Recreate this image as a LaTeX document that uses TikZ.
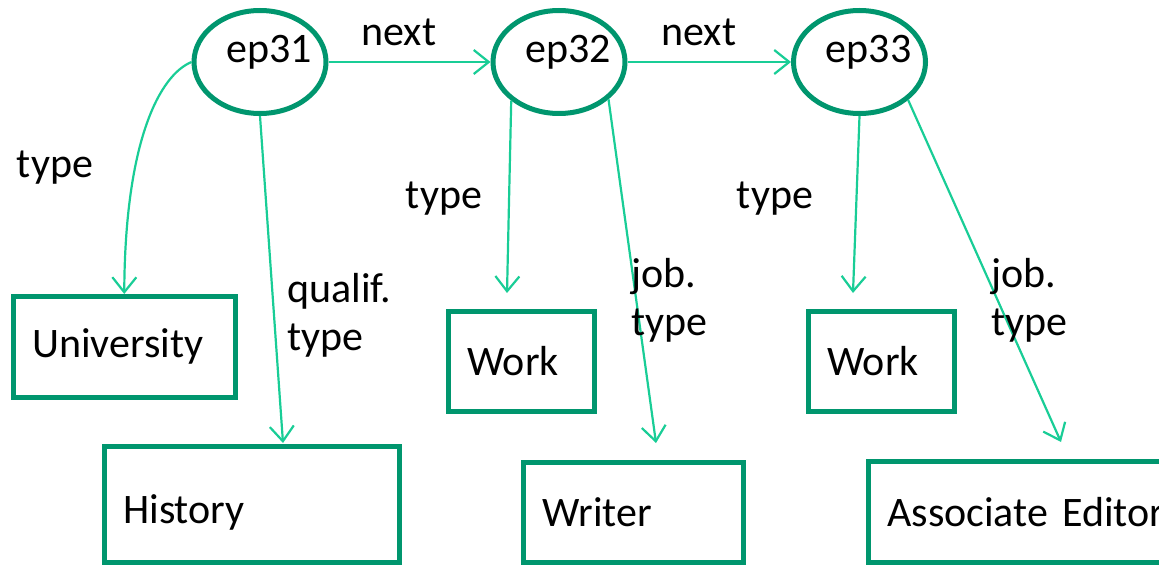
\documentclass[tikz,border=0pt]{standalone}
\usepackage{fontspec}
\setmainfont{Carlito}
\usetikzlibrary{arrows.meta,shapes.geometric}

\definecolor{boxgreen}{RGB}{0,150,110}
\definecolor{arrgreen}{RGB}{25,205,150}

\begin{document}
\begin{tikzpicture}[x=1pt,y=-1pt,
  font=\fontsize{42}{48}\selectfont,
  ep/.style={draw=boxgreen,line width=5pt,ellipse,minimum width=132pt,minimum height=103pt,inner sep=0pt},
  cls/.style={draw=boxgreen,line width=4.5pt,rectangle,anchor=north west,inner xsep=19pt,inner ysep=0pt,align=left},
  rel/.style={draw=arrgreen,line width=2.2pt,-{Straight Barb[length=15pt,width=24pt]}},
  lbl/.style={anchor=base west,align=left,inner sep=0pt}]

\useasboundingbox (0,0) rectangle (1159,567);

% episodes
\node[ep,label={[xshift=9pt,yshift=10pt]center:ep31}] (ep31) at (260,62) {};
\node[ep,label={[xshift=9pt,yshift=10pt]center:ep32}] (ep32) at (559,62) {};
\node[ep,label={[xshift=9pt,yshift=10pt]center:ep33}] (ep33) at (859.5,62) {};

% classes
\node[cls,minimum width=222pt,minimum height=101pt,text width=184pt] (univ) at (11,294) {University};
\node[cls,minimum width=295pt,minimum height=116pt,text width=257pt,text height=46pt] (hist) at (102,444) {History};
\node[cls,minimum width=146pt,minimum height=100pt,text width=108pt] (work32) at (446,309) {Work};
\node[cls,minimum width=220pt,minimum height=100pt,text width=182pt] (writer) at (521,460) {Writer};
\node[cls,minimum width=146pt,minimum height=100pt,text width=108pt] (work33) at (806,309) {Work};
\node[cls,minimum width=320pt,minimum height=101pt,text width=282pt] (assoc) at (866,459) {Associate Editor};

% arrow tips that stop short of the boxes
\coordinate (histtip) at (283,443);
\coordinate (wk32tip) at (507,293);
\coordinate (wr32tip) at (656,443);
\coordinate (wk33tip) at (853,293);
\coordinate (ae33tip) at (1061,442);

% relations
\draw[rel] (ep31.east) -- (ep32.west);
\draw[rel] (ep32.east) -- (ep33.west);
\draw[rel] (ep31.west) .. controls (160,75) and (125,140) .. (univ.north);
\draw[rel] (ep31.south) -- (histtip);
\draw[rel] (ep32.-141) -- (wk32tip);
\draw[rel] (ep32.-37) -- (wr32tip);
\draw[rel] (ep33.south) -- (wk33tip);
\draw[rel] (ep33.-38) -- (ae33tip);

% relation labels
\node[anchor=base] (nx31) at (399,46) {next};
\node[anchor=base] (nx32) at (699,46) {next};
\node[anchor=base] (ty31) at (55,177) {type};
\node[anchor=base] (ty32) at (444,208) {type};
\node[anchor=base] (ty33) at (775,208) {type};
\node[lbl] (qt31) at (287,350) {qualif.\\type};
\node[lbl] (jt32) at (631,335) {job.\\type};
\node[lbl] (jt33) at (991,335) {job.\\type};
\end{tikzpicture}
\end{document}
